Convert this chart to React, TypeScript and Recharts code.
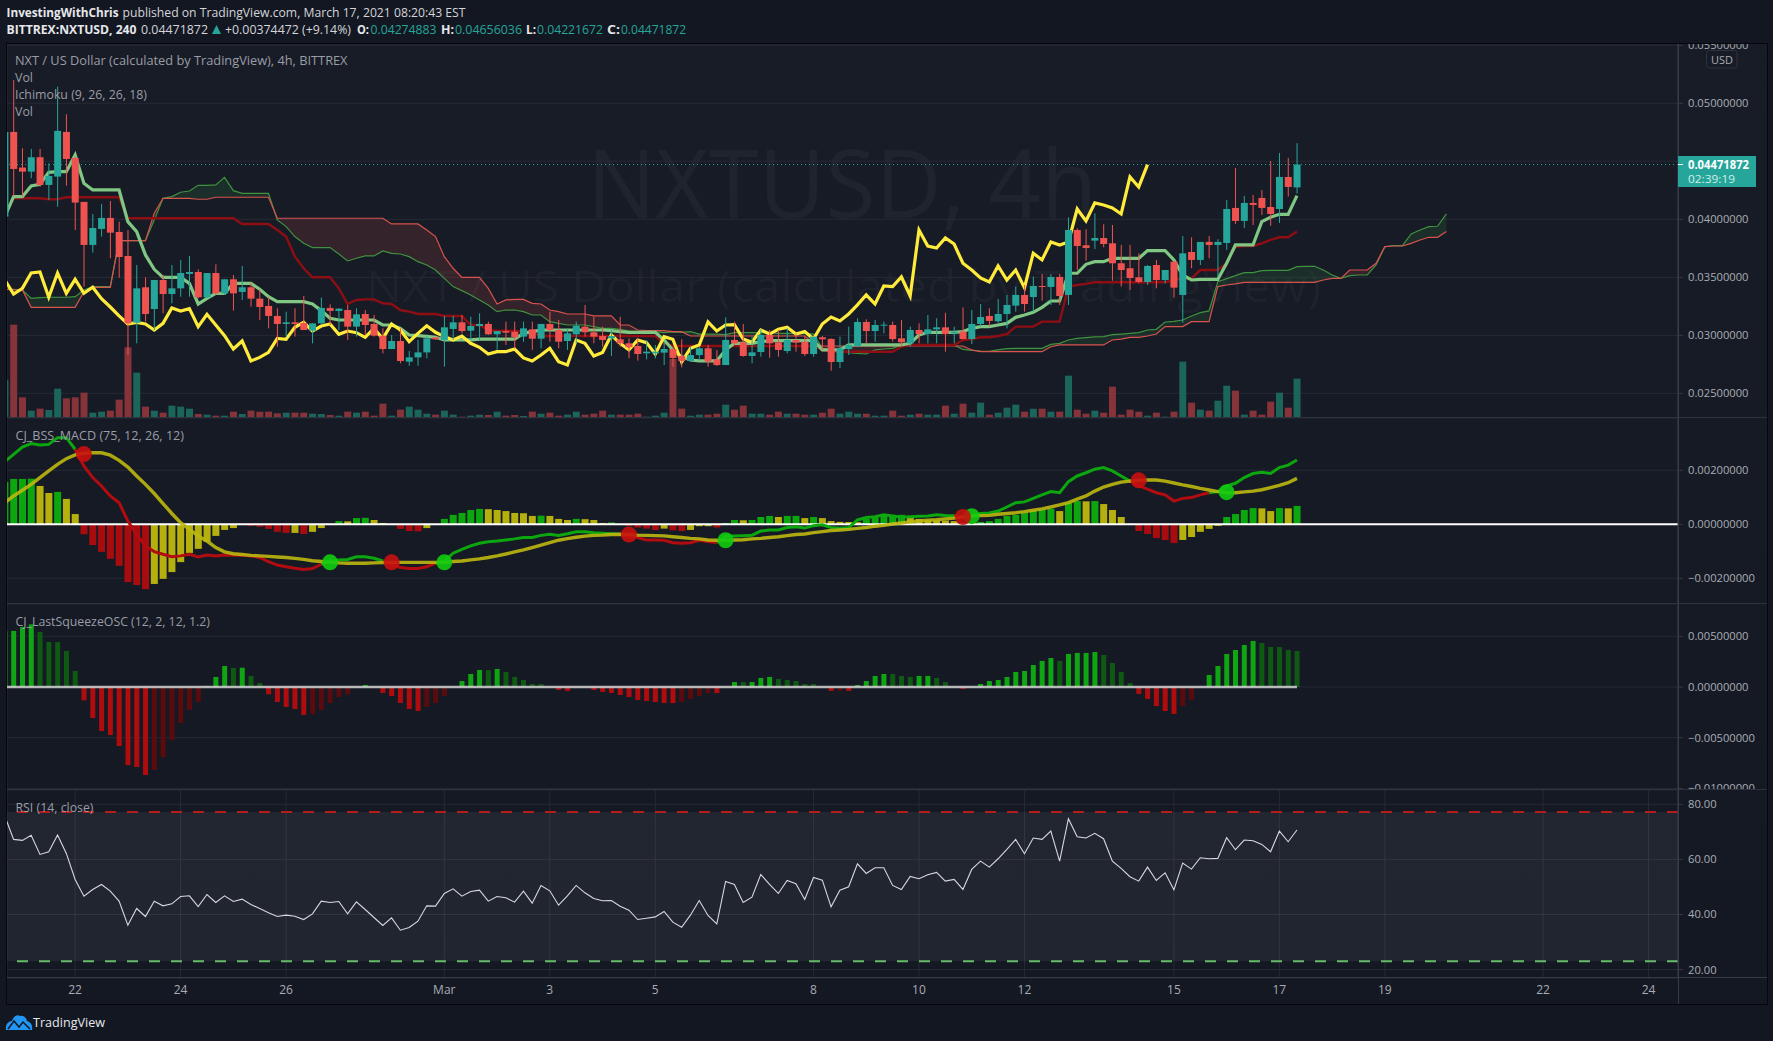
import React from "react"
import {
  ComposedChart, Bar, Line, Area, Cell, XAxis, YAxis, CartesianGrid, ReferenceLine, ReferenceArea,
} from "recharts"

// prices are in thousandths of a dollar, so 44.72 reads 0.04472 on the scale
const opens = [
  40.23, 47.53, 44.46, 44.11, 45.35, 42.96, 43.68, 47.53, 45.29, 41.50,
  37.79, 39.17, 40.12, 38.91, 36.84, 31.09, 34.14, 32.27, 34.77, 33.56,
  34.05, 35.29, 35.46, 33.28, 35.37, 33.62, 34.83, 33.74, 34.14, 33.16,
  32.53, 31.67, 30.98, 31.12, 31.06, 30.40, 31.03, 32.36, 32.10, 32.18,
  30.75, 31.84, 30.98, 29.97, 28.82, 29.51, 27.73, 28.10, 28.53, 29.83,
  29.60, 30.55, 31.12, 30.40, 30.80, 30.98, 30.09, 30.37, 30.31, 29.89,
  30.52, 29.71, 30.98, 30.46, 29.51, 30.09, 30.75, 30.26, 29.94, 29.74,
  29.66, 29.31, 29.08, 28.45, 28.45, 28.51, 28.82, 28.22, 27.79, 28.30,
  28.88, 27.93, 27.44, 29.60, 29.40, 28.22, 28.56, 30.03, 29.40, 28.65,
  29.60, 29.45, 28.39, 29.83, 29.69, 27.70, 28.82, 29.08, 31.15, 30.37,
  30.86, 30.89, 29.74, 29.31, 30.46, 30.11, 30.52, 30.69, 30.17, 30.32,
  29.68, 30.98, 31.67, 31.21, 31.84, 32.56, 33.48, 33.30, 34.25, 34.17,
  35.03, 33.48, 39.08, 37.76, 38.16, 38.39, 37.93, 36.21, 35.78, 35.00,
  34.60, 36.06, 34.77, 36.35, 33.48, 37.18, 36.50, 38.05, 37.79, 37.96,
  40.98, 39.86, 41.41, 41.84, 41.06, 40.89, 43.65, 42.75,
]
const closes = [
  47.53, 44.34, 44.11, 45.35, 42.96, 43.74, 47.62, 45.20, 41.44, 37.79,
  39.25, 40.12, 38.85, 36.75, 31.03, 34.05, 31.84, 34.77, 33.56, 34.05,
  35.37, 35.46, 33.28, 35.37, 33.62, 34.83, 33.62, 34.14, 33.16, 32.44,
  31.67, 30.98, 31.12, 30.98, 30.46, 31.03, 32.36, 32.10, 32.30, 30.75,
  31.81, 30.89, 29.97, 28.82, 29.51, 27.79, 28.10, 28.53, 29.74, 29.66,
  30.69, 31.12, 30.37, 30.80, 30.98, 30.09, 30.37, 30.23, 29.83, 30.60,
  29.71, 30.98, 30.46, 29.45, 30.17, 30.83, 30.26, 29.89, 29.60, 29.94,
  29.31, 28.97, 28.39, 28.59, 28.59, 28.82, 28.05, 27.79, 28.30, 28.88,
  27.73, 27.44, 29.60, 29.31, 28.22, 28.53, 30.03, 29.31, 28.74, 29.60,
  29.37, 28.39, 29.89, 29.66, 27.70, 28.88, 29.17, 31.15, 30.37, 30.89,
  30.92, 29.68, 29.40, 30.46, 30.11, 30.52, 30.69, 30.11, 30.32, 29.68,
  30.98, 31.58, 31.24, 31.84, 32.62, 33.48, 32.70, 34.25, 34.20, 35.03,
  33.39, 39.08, 37.70, 37.53, 38.39, 37.87, 36.21, 35.63, 34.94, 34.60,
  35.98, 34.77, 35.63, 34.11, 37.07, 36.50, 38.05, 37.79, 38.05, 40.89,
  39.86, 41.41, 41.24, 40.98, 40.46, 43.65, 42.79, 44.72,
]
const highs = [
  47.53, 52.01, 46.12, 46.07, 46.07, 44.83, 51.44, 49.05, 45.40, 41.50,
  40.46, 41.32, 41.58, 39.80, 39.08, 36.06, 35.00, 34.77, 35.20, 36.06,
  36.50, 36.84, 35.69, 35.37, 36.12, 34.83, 35.20, 35.98, 34.54, 33.97,
  33.33, 32.33, 32.04, 32.33, 33.39, 31.03, 33.25, 32.67, 32.33, 32.62,
  32.33, 32.18, 31.75, 30.60, 30.03, 30.60, 28.65, 29.60, 29.94, 29.83,
  31.67, 31.67, 31.75, 31.61, 31.90, 31.18, 30.37, 31.18, 31.18, 31.18,
  31.18, 30.98, 32.04, 31.32, 30.60, 31.18, 32.62, 31.61, 30.75, 30.46,
  31.61, 29.74, 29.74, 29.60, 29.17, 29.45, 29.02, 29.66, 29.02, 29.02,
  29.17, 28.74, 31.55, 31.18, 30.98, 29.89, 30.52, 30.46, 30.46, 30.60,
  30.17, 29.89, 29.89, 29.94, 29.74, 29.89, 30.75, 31.47, 31.38, 31.32,
  31.18, 31.18, 31.32, 30.75, 31.03, 31.75, 31.47, 31.95, 30.75, 32.41,
  32.18, 32.70, 32.33, 33.13, 33.48, 34.20, 34.34, 35.06, 35.29, 35.29,
  35.29, 40.17, 39.23, 39.14, 40.52, 39.57, 39.51, 37.79, 37.79, 37.07,
  36.06, 36.50, 35.63, 36.41, 38.56, 38.45, 38.05, 38.56, 38.28, 41.67,
  44.43, 42.01, 42.10, 42.53, 45.03, 45.72, 45.29, 46.56,
]
const lows = [
  40.23, 41.96, 41.96, 43.54, 42.82, 41.67, 41.09, 42.90, 39.08, 34.20,
  37.13, 38.51, 36.64, 34.97, 28.30, 29.31, 31.18, 30.46, 31.90, 32.76,
  33.33, 33.33, 33.19, 33.19, 33.48, 33.48, 32.13, 33.05, 32.47, 31.32,
  30.60, 29.02, 29.89, 29.89, 30.46, 29.31, 30.89, 30.89, 30.46, 29.60,
  29.89, 30.03, 29.89, 28.45, 28.82, 27.59, 27.38, 27.38, 28.02, 29.60,
  27.30, 29.60, 30.17, 29.60, 29.60, 30.03, 28.74, 29.17, 28.88, 29.45,
  28.74, 28.88, 29.45, 28.88, 28.74, 29.31, 29.89, 29.31, 29.02, 28.22,
  29.02, 28.02, 27.82, 27.93, 28.02, 27.44, 27.30, 27.24, 27.73, 27.82,
  27.30, 27.36, 27.44, 29.17, 28.16, 27.59, 28.16, 28.07, 28.16, 28.45,
  28.59, 28.22, 28.16, 28.74, 26.95, 27.18, 28.30, 29.02, 29.31, 29.45,
  30.17, 29.45, 29.02, 29.02, 29.31, 29.31, 29.31, 28.59, 29.31, 29.66,
  29.25, 30.75, 30.75, 31.03, 30.60, 32.04, 32.04, 32.04, 32.99, 32.62,
  32.62, 32.62, 35.63, 36.44, 37.44, 37.59, 34.71, 34.20, 33.91, 34.48,
  34.34, 34.05, 34.48, 33.25, 31.09, 35.78, 36.06, 36.64, 35.06, 37.36,
  39.60, 39.25, 39.51, 40.38, 39.43, 39.69, 41.96, 42.22,
]
const volumes = [
  115, 280, 62, 22, 28, 24, 88, 59, 62, 76,
  16, 19, 22, 55, 212, 136, 34, 22, 16, 37,
  34, 28, 12, 10, 7, 7, 19, 12, 22, 19,
  19, 14, 16, 16, 16, 13, 12, 9, 7, 19,
  16, 19, 7, 43, 7, 25, 34, 25, 13, 10,
  22, 10, 4, 7, 10, 9, 19, 7, 9, 6,
  19, 13, 16, 7, 10, 19, 10, 13, 22, 10,
  10, 10, 13, 4, 7, 16, 177, 28, 7, 10,
  10, 13, 40, 25, 37, 13, 13, 10, 19, 13,
  13, 10, 10, 16, 28, 13, 19, 13, 13, 7,
  7, 22, 7, 10, 13, 10, 10, 37, 13, 43,
  16, 46, 10, 16, 31, 40, 19, 28, 28, 19,
  19, 127, 25, 13, 22, 16, 94, 10, 25, 19,
  7, 16, 4, 19, 169, 46, 25, 22, 52, 97,
  82, 10, 22, 10, 49, 76, 31, 118,
]
const conversionLine = [
  40.23, 41.96, 41.96, 42.88, 43.02, 44.05, 44.11, 44.11, 45.55, 43.11,
  42.53, 42.53, 42.53, 42.53, 39.80, 38.94, 36.93, 35.69, 35.00, 35.00,
  35.00, 34.48, 32.70, 33.19, 33.62, 33.62, 34.48, 34.48, 34.48, 33.97,
  33.33, 32.90, 32.90, 32.90, 32.90, 32.70, 32.13, 31.47, 31.32, 31.32,
  31.32, 31.32, 31.32, 30.89, 30.89, 30.60, 30.03, 29.97, 29.91, 29.83,
  29.60, 29.60, 29.60, 29.60, 29.68, 29.68, 29.68, 29.68, 29.68, 30.17,
  30.32, 30.46, 30.46, 30.46, 30.46, 30.46, 30.46, 30.46, 30.46, 30.40,
  30.32, 30.26, 30.26, 30.26, 30.26, 29.60, 28.74, 28.16, 27.87, 27.79,
  27.79, 27.79, 28.74, 29.31, 29.31, 29.31, 29.45, 29.54, 29.54, 29.54,
  29.54, 29.54, 29.54, 28.74, 28.74, 28.74, 29.17, 29.17, 29.17, 29.17,
  29.17, 29.17, 29.17, 29.31, 30.03, 30.26, 30.26, 30.26, 30.26, 30.32,
  30.60, 30.75, 30.75, 30.89, 31.03, 31.55, 31.75, 31.98, 32.41, 32.96,
  32.96, 35.35, 35.35, 36.12, 36.35, 36.35, 36.64, 36.64, 36.64, 36.64,
  37.30, 37.30, 37.30, 36.50, 35.20, 34.77, 34.83, 34.83, 34.83, 36.21,
  37.79, 37.79, 37.79, 39.80, 40.17, 40.43, 40.43, 42.04,
]
const baseLine = [
  40.52, 41.81, 41.81, 41.81, 41.81, 41.73, 41.73, 41.90, 41.90, 41.90,
  41.90, 41.90, 41.90, 41.90, 40.09, 40.09, 40.09, 40.09, 40.09, 40.09,
  40.09, 40.09, 40.09, 40.09, 40.09, 40.09, 40.09, 39.60, 39.60, 39.60,
  39.60, 39.08, 38.51, 36.78, 35.78, 35.00, 35.00, 35.00, 34.05, 32.70,
  33.05, 33.10, 33.10, 32.76, 32.70, 32.18, 32.04, 31.84, 31.84, 31.84,
  31.67, 31.67, 31.67, 30.89, 30.89, 30.46, 30.40, 30.40, 30.40, 30.32,
  30.32, 29.94, 29.94, 29.94, 29.94, 29.94, 29.94, 29.94, 29.94, 29.94,
  29.94, 29.94, 29.94, 29.94, 29.94, 29.31, 29.08, 29.08, 29.08, 29.08,
  29.08, 29.08, 29.08, 29.08, 29.08, 29.08, 29.08, 29.08, 29.08, 29.08,
  29.08, 29.08, 29.08, 28.74, 28.59, 28.59, 28.59, 28.59, 28.59, 28.59,
  28.59, 28.59, 29.02, 29.17, 29.17, 29.17, 29.17, 29.17, 29.17, 29.60,
  29.68, 29.83, 29.83, 29.94, 30.11, 30.75, 30.75, 30.75, 31.18, 31.18,
  31.18, 34.20, 34.34, 34.43, 34.57, 34.57, 34.57, 34.57, 34.57, 34.57,
  34.57, 34.57, 34.57, 34.77, 34.91, 34.91, 35.63, 35.63, 35.63, 36.21,
  37.64, 37.70, 37.70, 37.93, 38.22, 38.45, 38.45, 38.94,
]
const leadingA = [
  33.97, 33.97, 33.91, 33.19, 33.25, 33.28, 33.28, 33.28, 33.33, 33.91,
  34.20, 34.20, 34.20, 38.16, 38.16, 38.16, 38.16, 39.94, 41.81, 41.96,
  42.33, 42.44, 42.93, 42.93, 42.96, 43.62, 42.47, 42.24, 42.24, 42.24,
  42.24, 39.94, 39.37, 38.51, 37.93, 37.56, 37.56, 37.56, 37.01, 36.41,
  36.64, 36.84, 36.84, 37.27, 37.07, 37.01, 36.78, 36.35, 36.06, 35.63,
  34.91, 34.20, 33.85, 33.48, 33.05, 32.62, 32.04, 32.18, 32.18, 32.04,
  31.75, 31.75, 31.18, 31.03, 30.89, 30.89, 30.89, 30.75, 30.60, 30.60,
  30.52, 30.37, 30.34, 30.32, 30.29, 30.23, 30.29, 30.26, 30.32, 30.11,
  30.11, 30.11, 30.06, 30.23, 30.23, 30.23, 30.23, 30.23, 30.17, 30.17,
  30.17, 30.17, 30.11, 28.88, 28.74, 28.59, 28.51, 28.45, 28.39, 28.74,
  28.82, 28.88, 29.17, 29.20, 29.17, 29.17, 29.17, 29.17, 29.14, 28.79,
  28.71, 28.65, 28.62, 28.74, 28.85, 28.88, 28.88, 28.88, 28.88, 29.22,
  29.31, 29.60, 29.74, 29.80, 29.86, 29.89, 30.06, 30.11, 30.17, 30.23,
  30.46, 30.52, 31.15, 31.21, 31.32, 31.67, 31.95, 32.10, 34.63, 34.89,
  35.14, 35.40, 35.40, 35.58, 35.60, 35.60, 35.60, 35.92, 35.95, 35.95,
  35.63, 35.20, 34.91, 35.14, 35.20, 35.20, 36.06, 37.64, 37.73, 37.73,
  38.74, 39.08, 39.37, 39.40, 40.46,
]
const leadingBStart = [
  33.97, 33.91, 33.91, 32.41, 32.41, 32.41, 32.41, 32.41, 32.41, 33.76,
  34.14, 34.14, 34.14, 38.16, 38.16, 38.16, 38.16,
]
const leadingB = [...leadingBStart, ...baseLine]

// in thousandths, same as the prices
const macdLine = [
  2.32, 2.59, 2.86, 2.99, 2.94, 2.96, 3.21, 3.21, 2.78, 2.16,
  1.73, 1.42, 1.05, 0.80, 0.12, -0.37, -0.80, -1.01, -1.11, -1.20,
  -1.17, -1.11, -1.21, -1.14, -1.17, -1.14, -1.15, -1.14, -1.17, -1.23,
  -1.38, -1.51, -1.57, -1.63, -1.67, -1.64, -1.48, -1.36, -1.32, -1.30,
  -1.20, -1.20, -1.26, -1.36, -1.48, -1.60, -1.64, -1.64, -1.57, -1.44,
  -1.36, -1.07, -0.93, -0.80, -0.70, -0.65, -0.62, -0.58, -0.54, -0.49,
  -0.49, -0.41, -0.37, -0.41, -0.35, -0.28, -0.28, -0.31, -0.33, -0.35,
  -0.37, -0.43, -0.49, -0.58, -0.58, -0.59, -0.68, -0.70, -0.68, -0.59,
  -0.64, -0.68, -0.43, -0.43, -0.42, -0.41, -0.25, -0.21, -0.21, -0.12,
  -0.09, -0.14, -0.05, -0.02, -0.12, -0.15, -0.12, 0.16, 0.25, 0.28,
  0.35, 0.31, 0.26, 0.28, 0.30, 0.31, 0.35, 0.33, 0.32, 0.25,
  0.31, 0.40, 0.42, 0.49, 0.64, 0.80, 0.83, 0.96, 1.09, 1.21,
  1.17, 1.58, 1.79, 1.91, 2.04, 2.10, 1.98, 1.79, 1.60, 1.42,
  1.30, 1.17, 1.09, 0.86, 0.96, 0.99, 1.09, 1.17, 1.21, 1.42,
  1.52, 1.73, 1.88, 1.93, 1.88, 2.10, 2.19, 2.38,
]
const signalLine = [
  0.80, 1.05, 1.26, 1.48, 1.73, 1.98, 2.22, 2.43, 2.57, 2.63,
  2.65, 2.65, 2.56, 2.37, 2.12, 1.79, 1.48, 1.14, 0.77, 0.40,
  0.06, -0.19, -0.43, -0.62, -0.86, -1.02, -1.09, -1.12, -1.15, -1.17,
  -1.19, -1.21, -1.23, -1.26, -1.30, -1.35, -1.38, -1.41, -1.43, -1.44,
  -1.44, -1.44, -1.43, -1.42, -1.41, -1.41, -1.41, -1.41, -1.41, -1.41,
  -1.41, -1.38, -1.36, -1.32, -1.28, -1.23, -1.17, -1.10, -1.02, -0.95,
  -0.86, -0.77, -0.68, -0.59, -0.53, -0.48, -0.44, -0.41, -0.40, -0.38,
  -0.37, -0.38, -0.40, -0.41, -0.42, -0.43, -0.46, -0.49, -0.52, -0.54,
  -0.58, -0.59, -0.59, -0.58, -0.57, -0.54, -0.52, -0.49, -0.46, -0.42,
  -0.38, -0.36, -0.31, -0.27, -0.23, -0.21, -0.19, -0.15, -0.12, -0.07,
  -0.04, 0.01, 0.05, 0.09, 0.12, 0.15, 0.17, 0.20, 0.23, 0.27,
  0.31, 0.32, 0.33, 0.37, 0.40, 0.43, 0.47, 0.52, 0.57, 0.64,
  0.72, 0.80, 0.93, 1.05, 1.23, 1.38, 1.48, 1.56, 1.60, 1.63,
  1.64, 1.64, 1.60, 1.53, 1.46, 1.40, 1.33, 1.27, 1.21, 1.17,
  1.17, 1.20, 1.23, 1.28, 1.36, 1.44, 1.54, 1.70,
]
const macdHist = [
  1.57, 1.68, 1.68, 1.69, 1.42, 1.16, 1.20, 0.94, 0.38, -0.37,
  -0.77, -1.02, -1.28, -1.54, -2.14, -2.25, -2.40, -2.21, -2.02, -1.77,
  -1.40, -1.06, -0.91, -0.65, -0.43, -0.21, -0.14, -0.02, -0.06, -0.09,
  -0.17, -0.28, -0.32, -0.32, -0.36, -0.28, -0.14, -0.01, 0.12, 0.11,
  0.23, 0.24, 0.16, 0.05, 0.00, -0.17, -0.25, -0.26, -0.14, -0.01,
  0.20, 0.35, 0.42, 0.53, 0.57, 0.56, 0.53, 0.49, 0.42, 0.41,
  0.31, 0.32, 0.31, 0.20, 0.16, 0.20, 0.19, 0.16, 0.05, 0.07,
  0.00, -0.06, -0.12, -0.16, -0.21, -0.16, -0.22, -0.25, -0.21, -0.07,
  -0.07, -0.12, 0.05, 0.16, 0.15, 0.16, 0.27, 0.31, 0.27, 0.31,
  0.31, 0.23, 0.27, 0.23, 0.12, 0.09, 0.085, 0.08, 0.20, 0.27,
  0.31, 0.35, 0.35, 0.27, 0.20, 0.16, 0.15, 0.14, 0.12, 0.05,
  0.04, 0.09, 0.12, 0.20, 0.31, 0.35, 0.42, 0.49, 0.53, 0.57,
  0.49, 0.79, 0.86, 0.85, 0.86, 0.75, 0.53, 0.27, 0.02, -0.25,
  -0.36, -0.51, -0.58, -0.69, -0.58, -0.47, -0.28, -0.17, -0.06, 0.27,
  0.38, 0.53, 0.60, 0.59, 0.49, 0.60, 0.59, 0.68,
]
const bullCrossBars = [37, 50, 82, 110, 139]
const bullCrossLevels = [-1.41, -1.41, -0.59, 0.30, 1.19]
const bearCrossBars = [9, 44, 71, 109, 129]
const bearCrossLevels = [2.6, -1.41, -0.38, 0.27, 1.63]

const squeezeOsc = [
  5.5, 5.53, 5.92, 6.18, 5.43, 4.44, 4.43, 3.55, 1.58, -1.32,
  -3.06, -4.34, -4.74, -5.82, -7.70, -7.89, -8.68, -8.19, -6.91, -5.23,
  -3.55, -2.27, -1.48, 0.10, 0.99, 2.07, 1.88, 1.90, 1.09, 0.39,
  -0.72, -1.48, -1.97, -2.17, -2.76, -2.66, -2.27, -1.58, -0.99, -0.72,
  0.00, 0.20, 0.00, -0.59, -0.89, -1.58, -2.17, -2.37, -1.97, -1.58,
  -0.89, -0.07, 0.59, 1.28, 1.68, 1.67, 1.78, 1.48, 0.99, 0.69,
  0.30, 0.29, 0.01, -0.30, -0.39, -0.10, -0.10, -0.30, -0.49, -0.59,
  -0.79, -0.99, -1.28, -1.38, -1.48, -1.58, -1.59, -1.48, -1.18, -0.89,
  -0.59, -0.60, 0.00, 0.49, 0.48, 0.49, 0.89, 0.99, 0.79, 0.69,
  0.59, 0.30, 0.29, 0.00, -0.39, -0.38, -0.39, 0.20, 0.59, 1.09,
  1.28, 1.27, 1.09, 0.99, 1.09, 1.09, 0.89, 0.49, 0.01, -0.20,
  0.00, 0.30, 0.59, 0.69, 0.99, 1.48, 1.58, 2.17, 2.57, 2.86,
  2.57, 3.26, 3.36, 3.36, 3.45, 3.16, 2.37, 1.48, 0.39, -0.69,
  -1.18, -1.88, -2.37, -2.66, -1.88, -1.28, 0.00, 1.18, 2.07, 3.26,
  3.65, 4.14, 4.54, 4.34, 3.95, 3.94, 3.65, 3.55,
]
const rsiValues = [
  75.76, 67.27, 66.91, 68.73, 61.82, 62.79, 68.85, 62.18, 52.73, 46.67,
  49.09, 50.91, 48.48, 44.85, 36.12, 42.18, 39.27, 44.85, 43.15, 43.88,
  46.55, 46.79, 42.91, 47.27, 44.36, 46.79, 44.73, 45.58, 43.64, 42.18,
  40.61, 39.27, 39.76, 39.39, 38.18, 40.24, 44.85, 44.36, 44.73, 40.24,
  44.61, 41.82, 38.91, 36.00, 38.79, 34.30, 35.27, 37.58, 43.15, 43.03,
  47.64, 49.33, 46.67, 48.36, 48.85, 44.85, 46.55, 46.06, 44.48, 48.48,
  44.12, 50.55, 48.61, 43.39, 46.79, 50.55, 47.88, 45.82, 44.97, 45.09,
  43.03, 41.58, 38.18, 38.67, 39.15, 41.09, 37.21, 35.39, 39.76, 45.09,
  39.64, 36.61, 52.00, 50.91, 44.36, 46.30, 54.55, 50.91, 47.64, 52.36,
  51.15, 45.45, 53.45, 52.48, 42.79, 48.85, 50.06, 58.42, 54.91, 56.97,
  56.97, 50.55, 49.09, 53.82, 52.97, 54.42, 55.27, 52.12, 52.73, 49.09,
  56.36, 59.39, 57.21, 60.24, 63.64, 67.27, 62.06, 67.76, 67.27, 70.30,
  59.39, 74.79, 68.24, 67.76, 69.45, 67.52, 59.39, 56.73, 53.70, 52.12,
  57.21, 52.36, 55.15, 48.97, 58.67, 56.48, 60.61, 60.24, 60.36, 67.88,
  63.52, 67.03, 66.79, 65.45, 62.79, 70.30, 66.42, 70.67,
]

const dayTicks = [8, 20, 32, 50, 62, 74, 92, 104, 116, 133, 145, 157, 175, 187]
const dayLabels = ["22", "24", "26", "Mar", "3", "5", "8", "10", "12", "15", "17", "19", "22", "24"]
const priceTicks = [25, 30, 35, 40, 45, 50, 55]
const macdTicks = [-2, 0, 2]
const oscTicks = [-10, -5, 0, 5]
const rsiTicks = [20, 40, 60, 80]

const lastPrice = 44.71872
const lagBars = 17

const UP = "#26a69a"
const DOWN = "#ef5350"
const GRID = "#262a35"
const AXIS_TEXT = "#a9acb4"
const FONT = '"Open Sans", sans-serif'
const WIDTH = 1760
const XDOMAIN: [number, number] = [0.25, 190.35]

const priceRows = leadingA.map((a, i) => {
  const b = leadingB[i]
  const top = Math.max(a, b)
  return {
    i,
    range: i < opens.length ? [lows[i], highs[i]] : undefined,
    open: opens[i],
    close: closes[i],
    volume: volumes[i],
    conversion: conversionLine[i],
    base: baseLine[i],
    lagging: closes[i + lagBars],
    leadA: a,
    leadB: b,
    greenCloud: [b, top],
    redCloud: [a, top],
  }
})

const above = (i: number) => macdLine[i] >= signalLine[i]
const macdRows = macdHist.map((hist, i) => {
  const next = i + 1 < macdLine.length ? i + 1 : i
  const bull = bullCrossBars.indexOf(i)
  const bear = bearCrossBars.indexOf(i)
  return {
    i,
    hist,
    signal: signalLine[i],
    macdUp: above(i) || above(next) ? macdLine[i] : null,
    macdDown: !above(i) || !above(next) ? macdLine[i] : null,
    bull: bull >= 0 ? bullCrossLevels[bull] : null,
    bear: bear >= 0 ? bearCrossLevels[bear] : null,
  }
})
const oscRows = squeezeOsc.map((osc, i) => ({ i, osc, zero: 0 }))
const rsiRows = rsiValues.map((rsi, i) => ({ i, rsi }))

const macdColor = (i: number) => {
  const v = macdHist[i]
  const prev = i > 0 ? macdHist[i - 1] : v
  if (v >= 0) return v >= prev ? "#0ca60f" : "#b5b00d"
  return v < prev ? "#a90c0e" : "#b5b00d"
}
const oscColor = (i: number) => {
  const v = squeezeOsc[i]
  const prev = i > 0 ? squeezeOsc[i - 1] : v
  if (v >= 0) return v >= prev ? "#10a512" : "#0e5a13"
  return v < prev ? "#b00c0e" : "#5a0b0d"
}

const Candle = (props: any) => {
  const { x, y, width, height, payload } = props
  if (!payload || payload.open === undefined || !(height > 0)) return null
  const { open, close, range } = payload
  const perUnit = height / (range[1] - range[0])
  const bodyTop = y + (range[1] - Math.max(open, close)) * perUnit
  const bodyH = Math.max(Math.abs(open - close) * perUnit, 1)
  const color = close >= open ? UP : DOWN
  return (
    <g>
      <rect x={x + width / 2 - 0.5} y={y} width={1} height={height} fill={color} />
      <rect x={x} y={bodyTop} width={width} height={bodyH} fill={color} />
    </g>
  )
}

const milli = (v: number) => (v < 0 ? "\u2212" : "") + (Math.abs(v) / 1000).toFixed(8)
// the 0.045 label sits under the last price tag
const priceLabel = (v: number) => (v === 45 ? "" : milli(v))
const tickStyle = { fontSize: 11.2, fill: AXIS_TEXT, fontFamily: FONT }

const Pane = ({ top, height, children }: { top: number; height: number; children: React.ReactNode }) => (
  <div style={{ position: "absolute", left: 7, top, width: WIDTH, height }}>{children}</div>
)

const Label = ({ x, y, w, color = "#a9acb4", bold = false, size = 12, children }: any) => (
  <text
    x={x}
    y={y}
    textLength={w}
    lengthAdjust="spacingAndGlyphs"
    dominantBaseline="central"
    fontFamily={FONT}
    fontSize={size}
    fontWeight={bold ? 700 : 400}
    fill={color}
  >
    {children}
  </text>
)

const App = () => (
  <div
    style={{
      position: "absolute",
      left: 0,
      top: 0,
      width: 1773,
      height: 1041,
      overflow: "hidden",
      background: "#131722",
    }}
  >
    <div
      style={{
        position: "absolute",
        left: 7,
        top: 44,
        width: 1760,
        height: 960,
        background: "linear-gradient(#181c27, #141823)",
      }}
    />
    <svg width={1773} height={1041} style={{ position: "absolute", left: 0, top: 0 }}>
      <text x={587} y={218} textLength={510} lengthAdjust="spacingAndGlyphs" fontFamily={FONT} fontSize={96} fill="#ffffff" fillOpacity={0.035}>
        NXTUSD, 4h
      </text>
      <text x={366} y={302} textLength={955} lengthAdjust="spacingAndGlyphs" fontFamily={FONT} fontSize={44} fill="#ffffff" fillOpacity={0.035}>
        NXT / US Dollar (calculated by TradingView)
      </text>
    </svg>

    <Pane top={44} height={374}>
      <ComposedChart width={WIDTH} height={374} data={priceRows} margin={{ top: 0, right: 0, bottom: 0, left: 0 }}>
        <CartesianGrid stroke={GRID} />
        <XAxis dataKey="i" type="number" domain={XDOMAIN} ticks={dayTicks} allowDataOverflow interval={0} axisLine={false} tickLine={false} tick={false} height={0} />
        <XAxis xAxisId="vol" dataKey="i" type="number" domain={XDOMAIN} allowDataOverflow hide />
        <YAxis
          orientation="right"
          width={89}
          domain={[22.874, 55.11]}
          ticks={priceTicks}
          interval={0}
          tickFormatter={priceLabel}
          tick={tickStyle}
          stroke="#363a45"
          tickSize={5}
          tickMargin={5}
        />
        <YAxis yAxisId="vol" hide domain={[0, 1122]} />
        <Bar xAxisId="vol" yAxisId="vol" dataKey="volume" barSize={7} isAnimationActive={false} zIndex={50}>
          {priceRows.map((r) => (
            <Cell key={r.i} fill={r.close >= r.open ? "#1b655b" : "#87333a"} />
          ))}
        </Bar>
        <Area dataKey="greenCloud" stroke="none" fill="#43a047" fillOpacity={0.14} isAnimationActive={false} dot={false} zIndex={60} />
        <Area dataKey="redCloud" stroke="none" fill="#ef5350" fillOpacity={0.14} isAnimationActive={false} dot={false} zIndex={60} />
        <Line dataKey="leadA" stroke="#3f923f" strokeWidth={1.2} dot={false} isAnimationActive={false} zIndex={70} />
        <Line dataKey="leadB" stroke="#d9524e" strokeWidth={1.2} dot={false} isAnimationActive={false} zIndex={70} />
        <ReferenceLine y={lastPrice} stroke={UP} strokeDasharray="1 3" zIndex={75} />
        <Line dataKey="base" stroke="#8e0e13" strokeWidth={2.4} dot={false} isAnimationActive={false} zIndex={80} />
        <Line dataKey="conversion" stroke="#81c784" strokeWidth={3.2} dot={false} isAnimationActive={false} zIndex={80} />
        <Line dataKey="lagging" stroke="#ffeb3b" strokeWidth={3.2} dot={false} isAnimationActive={false} zIndex={80} />
        <Bar dataKey="range" barSize={7} shape={Candle} isAnimationActive={false} zIndex={90} />
      </ComposedChart>
    </Pane>

    <Pane top={418} height={186}>
      <ComposedChart width={WIDTH} height={186} data={macdRows} margin={{ top: 0, right: 0, bottom: 0, left: 0 }}>
        <CartesianGrid stroke={GRID} />
        <XAxis dataKey="i" type="number" domain={XDOMAIN} ticks={dayTicks} allowDataOverflow interval={0} axisLine={false} tickLine={false} tick={false} height={0} />
        <YAxis
          orientation="right"
          width={89}
          domain={[-2.952, 3.937]}
          ticks={macdTicks}
          interval={0}
          tickFormatter={milli}
          tick={tickStyle}
          stroke="#363a45"
          tickSize={5}
          tickMargin={5}
        />
        <Bar dataKey="hist" barSize={7} isAnimationActive={false} zIndex={50}>
          {macdRows.map((r) => (
            <Cell key={r.i} fill={macdColor(r.i)} />
          ))}
        </Bar>
        <ReferenceLine y={0} stroke="#ffffff" strokeWidth={2} zIndex={60} />
        <Line dataKey="macdUp" stroke="#0ca60f" strokeWidth={3} dot={false} isAnimationActive={false} zIndex={70} />
        <Line dataKey="macdDown" stroke="#b30c10" strokeWidth={3} dot={false} isAnimationActive={false} zIndex={70} />
        <Line dataKey="bull" stroke="none" dot={{ r: 8, fill: "#10cc10", fillOpacity: 0.9, stroke: "none" }} isAnimationActive={false} zIndex={72} />
        <Line dataKey="bear" stroke="none" dot={{ r: 8, fill: "#c80f0f", fillOpacity: 0.9, stroke: "none" }} isAnimationActive={false} zIndex={72} />
        <Line dataKey="signal" stroke="#bdb80f" strokeWidth={3.4} strokeOpacity={0.9} dot={false} isAnimationActive={false} zIndex={75} />
      </ComposedChart>
    </Pane>

    <Pane top={604} height={186}>
      <ComposedChart width={WIDTH} height={186} data={oscRows} margin={{ top: 0, right: 0, bottom: 0, left: 0 }}>
        <CartesianGrid stroke={GRID} />
        <XAxis dataKey="i" type="number" domain={XDOMAIN} ticks={dayTicks} allowDataOverflow interval={0} axisLine={false} tickLine={false} tick={false} height={0} />
        <YAxis
          orientation="right"
          width={89}
          domain={[-10.16, 8.185]}
          ticks={oscTicks}
          interval={0}
          tickFormatter={milli}
          tick={tickStyle}
          stroke="#363a45"
          tickSize={5}
          tickMargin={5}
        />
        <Bar dataKey="osc" barSize={5} isAnimationActive={false} zIndex={50}>
          {oscRows.map((r) => (
            <Cell key={r.i} fill={oscColor(r.i)} />
          ))}
        </Bar>
        <Line dataKey="zero" stroke="#d4d4d4" strokeOpacity={0.85} strokeWidth={2.4} dot={false} isAnimationActive={false} zIndex={70} />
      </ComposedChart>
    </Pane>

    <Pane top={790} height={215}>
      <ComposedChart width={WIDTH} height={215} data={rsiRows} margin={{ top: 0, right: 0, bottom: 0, left: 0 }}>
        <ReferenceArea y1={23} y2={77.2} fill="#ffffff" fillOpacity={0.06} stroke="none" zIndex={10} />
        <CartesianGrid stroke={GRID} />
        <XAxis
          dataKey="i"
          type="number"
          domain={XDOMAIN}
          ticks={dayTicks}
          allowDataOverflow
          interval={0}
          height={27}
          axisLine={false}
          tickLine={false}
          tickSize={0}
          tickMargin={7}
          tick={{ fontSize: 12, fill: AXIS_TEXT, fontFamily: FONT }}
          tickFormatter={(v: number) => dayLabels[dayTicks.indexOf(v)]}
        />
        <YAxis
          orientation="right"
          width={89}
          domain={[16.95, 85.2]}
          ticks={rsiTicks}
          interval={0}
          tickFormatter={(v: number) => v.toFixed(2)}
          tick={tickStyle}
          stroke="#363a45"
          tickSize={5}
          tickMargin={5}
        />
        <ReferenceLine y={77.2} stroke="#b71c1c" strokeWidth={2} strokeDasharray="11 11" zIndex={60} />
        <ReferenceLine y={23} stroke="#66bb6a" strokeWidth={2} strokeDasharray="11 11" zIndex={60} />
        <Line dataKey="rsi" stroke="#d6d8dc" strokeWidth={1.1} dot={false} isAnimationActive={false} zIndex={70} />
      </ComposedChart>
    </Pane>

    <svg width={1773} height={1041} style={{ position: "absolute", left: 0, top: 0, pointerEvents: "none" }}>
      <rect x={6.5} y={43.5} width={1761} height={961} fill="none" stroke="#05070c" />
      <line x1={7} x2={1767} y1={417.5} y2={417.5} stroke="#2e323d" />
      <line x1={7} x2={1767} y1={603.5} y2={603.5} stroke="#2e323d" />
      <line x1={7} x2={1767} y1={789.5} y2={789.5} stroke="#2e323d" />
      <line x1={7} x2={1767} y1={977.5} y2={977.5} stroke="#363a45" />
      <line x1={1678.5} x2={1678.5} y1={44} y2={1004} stroke="#363a45" />

      <Label x={6.5} y={12.5} w={112} bold color="#e6e7ea">InvestingWithChris</Label>
      <Label x={122.5} y={12.5} w={343} color="#d4d5d9">published on TradingView.com, March 17, 2021 08:20:43 EST</Label>
      <Label x={6.5} y={29.5} w={130} bold color="#e6e7ea">BITTREX:NXTUSD, 240</Label>
      <Label x={141} y={29.5} w={67} color="#d4d5d9">0.04471872</Label>
      <polygon points="212,34 216.5,25 221,34" fill={UP} />
      <Label x={225} y={29.5} w={126} color="#d4d5d9">+0.00374472 (+9.14%)</Label>
      <Label x={357} y={29.5} w={12} bold color="#e6e7ea">O:</Label>
      <Label x={370.5} y={29.5} w={66} color={UP}>0.04274883</Label>
      <Label x={441} y={29.5} w={13} bold color="#e6e7ea">H:</Label>
      <Label x={455} y={29.5} w={67} color={UP}>0.04656036</Label>
      <Label x={526} y={29.5} w={10} bold color="#e6e7ea">L:</Label>
      <Label x={537} y={29.5} w={66} color={UP}>0.04221672</Label>
      <Label x={607} y={29.5} w={13} bold color="#e6e7ea">C:</Label>
      <Label x={621} y={29.5} w={65} color={UP}>0.04471872</Label>

      <Label x={15} y={60.5} w={332.5} color="#9a9da6">NXT / US Dollar (calculated by TradingView), 4h, BITTREX</Label>
      <Label x={15} y={77.5} w={18} color="#9a9da6">Vol</Label>
      <Label x={15} y={94.5} w={132} color="#9a9da6">Ichimoku (9, 26, 26, 18)</Label>
      <Label x={15} y={111.5} w={18} color="#9a9da6">Vol</Label>
      <Label x={15.5} y={435} w={168.5} color="#9a9da6">CJ_BSS_MACD (75, 12, 26, 12)</Label>
      <Label x={15.5} y={621} w={194.5} color="#9a9da6">CJ_LastSqueezeOSC (12, 2, 12, 1.2)</Label>
      <Label x={15.5} y={807} w={78} color="#9a9da6">RSI (14, close)</Label>

      <rect x={1706.5} y={50.5} width={30.5} height={17.5} rx={3} fill="#171b26" stroke="#2e323d" />
      <Label x={1711} y={59} w={22} size={11} color={AXIS_TEXT}>USD</Label>

      <rect x={1678} y={156} width={78} height={31} fill={UP} />
      <line x1={1678} x2={1683} y1={164.5} y2={164.5} stroke="#ffffff" />
      <Label x={1688} y={164.5} w={61} bold size={11.5} color="#ffffff">0.04471872</Label>
      <Label x={1688} y={178} w={47} size={11.5} color="#d3eeea">02:39:19</Label>

      <path d="M6 1030 C5 1024 9 1021 12 1021 C13 1017 17 1014 20 1016 C23 1015 27 1018 27 1021 C31 1022 33 1026 32 1030 Z" fill="#2196f3" />
      <path d="M8 1029 L14 1021 L19 1027 L23 1022 L30 1029" fill="none" stroke="#131722" strokeWidth={1.5} />
      <Label x={33} y={1022} w={72} size={12} color="#e6e7ea">TradingView</Label>
    </svg>
  </div>
)

export default App
